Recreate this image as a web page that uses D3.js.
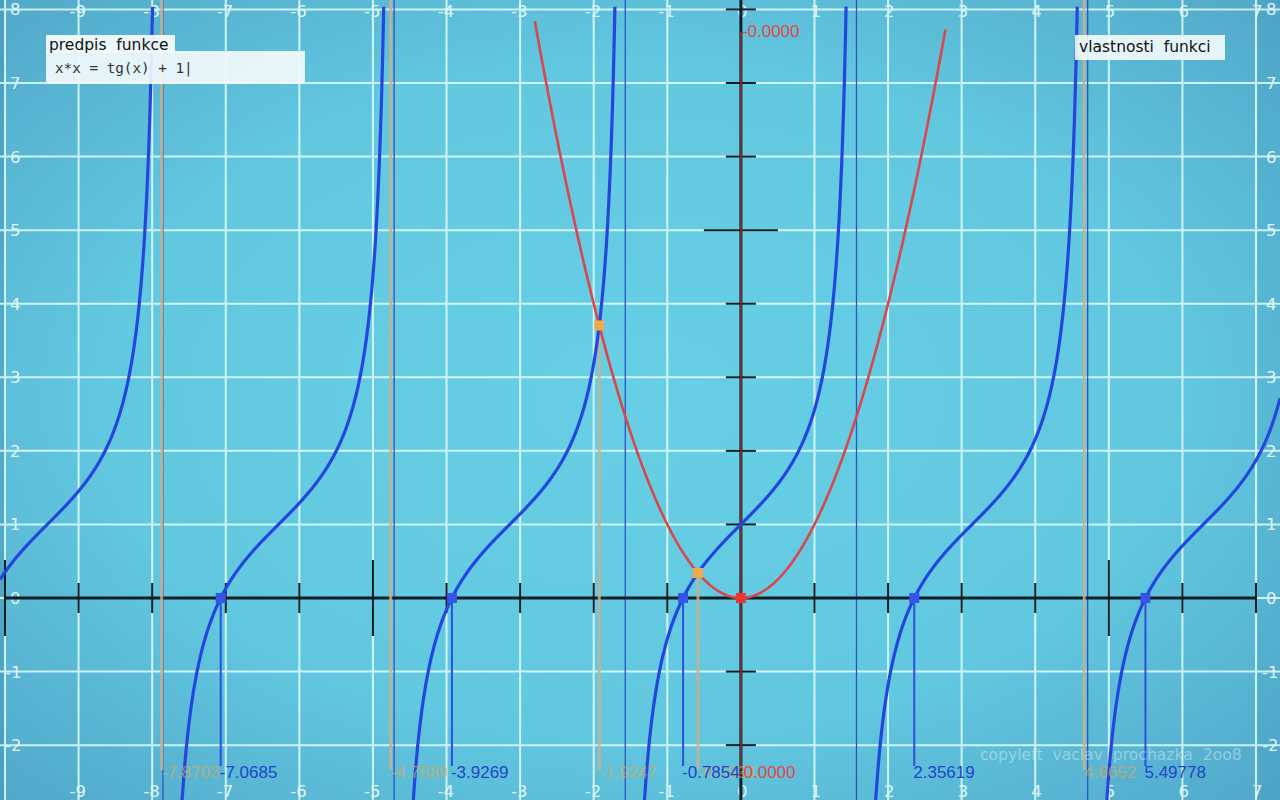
<!DOCTYPE html>
<html>
<head>
<meta charset="utf-8">
<script src="https://cdn.jsdelivr.net/npm/d3@7"></script>
<style>
  html, body { margin: 0; padding: 0; background: #5ab4d2; }
  svg { display: block; }
</style>
</head>
<body>
<svg id="chart" width="1280" height="800"></svg>
<script>
// ---- data ----
const formulaText = "x*x = tg(x) + 1|";
const xTickValues = [-9, -8, -7, -6, -5, -4, -3, -2, -1, 0, 1, 2, 3, 4, 5, 6, 7];
const yTickValues = [-2, -1, 0, 1, 2, 3, 4, 5, 6, 7, 8];
const xMajorTicks = [-10, -5, 5];
const yMajorTicks = [5];
const asymptotes = [-7.8540, -4.7124, -1.5708, 1.5708, 4.7124];
const blueRoots = [-7.0685, -3.9269, -0.7854, 2.35619, 5.49778];
const blueRootLabels = ["-7.0685", "-3.9269", "-0.7854", "2.35619", "5.49778"];
const intersections = [-7.8703, -4.7589, -1.9247, -0.5834, 4.6652];
const intersectionLabels = ["-7.8703", "-4.7589", "-1.9247", "-0.5834", "4.6652"];
const redRoots = [0];
const redRootLabels = ["-0.0000"];
const parabolaRange = [-2.8, 2.78];
// plotted functions, as typed in the formula box
const leftSide = x => x * x;
const rightSide = x => Math.tan(x) + 1;

// ---- setup ----
const W = 1280, H = 800;
const svg = d3.select("#chart");
const x = d3.scaleLinear().domain([-10, 7]).range([5, 1256]);
const y = d3.scaleLinear().domain([0, 7]).range([598, 83]);

const defs = svg.append("defs");
const rg = defs.append("radialGradient").attr("id", "bg")
  .attr("cx", "50%").attr("cy", "50%").attr("r", "75%");
rg.append("stop").attr("offset", "0%").attr("stop-color", "#66cfe5");
rg.append("stop").attr("offset", "55%").attr("stop-color", "#62c8e0");
rg.append("stop").attr("offset", "100%").attr("stop-color", "#4fa3c6");

svg.append("rect").attr("width", W).attr("height", H).attr("fill", "url(#bg)");
svg.append("rect").attr("x", 0).attr("y", 0).attr("width", 5).attr("height", H)
  .attr("fill", "#3f8fb3").attr("opacity", 0.4);
svg.append("rect").attr("x", 1258).attr("y", 0).attr("width", 22).attr("height", H)
  .attr("fill", "#3f8fb3").attr("opacity", 0.15);

// ---- grid ----
const grid = svg.append("g").attr("stroke", "#e2fdff").attr("stroke-width", 2).attr("opacity", 0.85);
grid.selectAll("line.v").data([-10].concat(xTickValues)).join("line")
  .attr("x1", d => x(d)).attr("x2", d => x(d)).attr("y1", 0).attr("y2", H);
grid.selectAll("line.h").data(yTickValues).join("line")
  .attr("y1", d => y(d)).attr("y2", d => y(d)).attr("x1", 0).attr("x2", W);

// ---- axis labels ----
const lab = svg.append("g").attr("font-family", "DejaVu Sans, sans-serif")
  .attr("font-size", 16.5).attr("fill", "#eafcff").attr("opacity", 0.9);
lab.selectAll("text.top").data(xTickValues).join("text")
  .attr("x", d => x(d) - (d < 0 ? 9 : 4)).attr("y", 17).text(d => d);
lab.selectAll("text.bot").data(xTickValues).join("text")
  .attr("x", d => x(d) - (d < 0 ? 9 : 4)).attr("y", 797).text(d => d);
lab.selectAll("text.left").data(yTickValues).join("text")
  .attr("x", d => d < 0 ? 5 : 10).attr("y", d => y(d)).attr("dy", "0.36em").text(d => d);
lab.selectAll("text.right").data(yTickValues).join("text")
  .attr("x", d => d < 0 ? 1262 : 1266).attr("y", d => y(d)).attr("dy", "0.36em").text(d => d);

// ---- asymptotes ----
svg.append("g").selectAll("line").data(asymptotes).join("line")
  .attr("x1", d => x(d)).attr("x2", d => x(d)).attr("y1", 0).attr("y2", H)
  .attr("stroke", "#2a55c8").attr("stroke-width", 1.3);

// ---- axes ----
const axisColor = "#0d1d24";
svg.append("line").attr("x1", x(-10)).attr("x2", x(7)).attr("y1", y(0)).attr("y2", y(0))
  .attr("stroke", axisColor).attr("stroke-width", 3);
svg.append("line").attr("x1", x(0)).attr("x2", x(0)).attr("y1", 0).attr("y2", H)
  .attr("stroke", axisColor).attr("stroke-width", 3);
const ticks = svg.append("g").attr("stroke", axisColor).attr("stroke-width", 2);
ticks.selectAll("line.xt").data(xTickValues.filter(d => d !== 0)).join("line")
  .attr("x1", d => x(d)).attr("x2", d => x(d))
  .attr("y1", d => y(0) - (xMajorTicks.includes(d) ? 38 : 15))
  .attr("y2", d => y(0) + (xMajorTicks.includes(d) ? 38 : 15));
ticks.selectAll("line.xm").data(xMajorTicks.filter(d => !xTickValues.includes(d))).join("line")
  .attr("x1", d => x(d)).attr("x2", d => x(d))
  .attr("y1", y(0) - 38).attr("y2", y(0) + 38);
ticks.selectAll("line.yt").data(yTickValues.filter(d => d !== 0)).join("line")
  .attr("y1", d => y(d)).attr("y2", d => y(d))
  .attr("x1", d => x(0) - (yMajorTicks.includes(d) ? 37 : 15))
  .attr("x2", d => x(0) + (yMajorTicks.includes(d) ? 37 : 15));

// red root line (over y axis)
svg.append("g").selectAll("line").data(redRoots).join("line")
  .attr("x1", d => x(d)).attr("x2", d => x(d)).attr("y1", 32).attr("y2", 770)
  .attr("stroke", "#c24040").attr("stroke-width", 2).attr("opacity", 0.55);

// ---- intersection (orange) lines ----
svg.append("g").selectAll("line").data(intersections).join("line")
  .attr("x1", d => x(d)).attr("x2", d => x(d))
  .attr("y1", d => Math.max(0, y(leftSide(d))))
  .attr("y2", 770)
  .attr("stroke", "#c9b28e").attr("stroke-width", 3).attr("opacity", 0.85);

// ---- blue root lines ----
svg.append("g").selectAll("line").data(blueRoots).join("line")
  .attr("x1", d => x(d)).attr("x2", d => x(d)).attr("y1", y(0)).attr("y2", 766)
  .attr("stroke", "#2d4fe0").attr("stroke-width", 2);

// ---- curves ----
const xmin = x.invert(0), xmax = x.invert(W);
const bluePts = [];
for (let i = 0; ; i++) {
  const xv = xmin + i * 0.0008;
  if (xv > xmax) break;
  bluePts.push([xv, rightSide(xv)]);
}
const line = d3.line().x(d => x(d[0])).y(d => y(d[1]))
  .defined(d => d[1] <= 8.05 && d[1] >= -3.2);
svg.append("path").datum(bluePts).attr("d", line)
  .attr("fill", "none").attr("stroke", "#2546de").attr("stroke-width", 3.2);

const redPts = d3.range(parabolaRange[0], parabolaRange[1] + 1e-9, 0.01).map(v => [v, leftSide(v)]);
svg.append("path").datum(redPts).attr("d", d3.line().x(d => x(d[0])).y(d => y(d[1])))
  .attr("fill", "none").attr("stroke", "#d9474a").attr("stroke-width", 2.6);

// ---- markers ----
const sq = 10;
svg.append("g").selectAll("rect").data(blueRoots).join("rect")
  .attr("x", d => x(d) - sq / 2).attr("y", y(0) - sq / 2).attr("width", sq).attr("height", sq)
  .attr("fill", "#3454ea");
svg.append("g").selectAll("rect").data(intersections.filter(d => leftSide(d) < 8)).join("rect")
  .attr("x", d => x(d) - sq / 2).attr("y", d => y(leftSide(d)) - sq / 2).attr("width", sq).attr("height", sq)
  .attr("fill", "#f2a94e");
svg.append("g").selectAll("rect").data(redRoots).join("rect")
  .attr("x", d => x(d) - sq / 2).attr("y", y(0) - sq / 2).attr("width", sq).attr("height", sq)
  .attr("fill", "#ee3434");

// ---- root labels ----
const rl = svg.append("g").attr("font-family", "Liberation Sans, Arial, sans-serif").attr("font-size", 17);
rl.selectAll("text.o").data(intersections).join("text")
  .attr("x", d => x(d)).attr("y", 778).attr("fill", "#e6a84c").attr("opacity", 0.6)
  .text((d, i) => intersectionLabels[i]);
rl.selectAll("text.b").data(blueRoots).join("text")
  .attr("x", d => x(d) - 1).attr("y", 778).attr("fill", "#2244cc")
  .text((d, i) => blueRootLabels[i]);
rl.selectAll("text.r").data(redRoots).join("text")
  .attr("x", d => x(d) - 3).attr("y", 778).attr("fill", "#e04848")
  .text((d, i) => redRootLabels[i]);
rl.selectAll("text.rt").data(redRoots).join("text")
  .attr("x", d => x(d) + 1).attr("y", 37).attr("fill", "#e04848")
  .text((d, i) => redRootLabels[i]);

// ---- boxes ----
const boxFill = "#f4fbfc";
svg.append("rect").attr("x", 46).attr("y", 51).attr("width", 259).attr("height", 33)
  .attr("fill", boxFill).attr("opacity", 0.9);
svg.append("rect").attr("x", 46).attr("y", 35).attr("width", 129).attr("height", 18)
  .attr("fill", boxFill).attr("opacity", 0.94);
svg.append("text").attr("x", 49).attr("y", 50).attr("font-family", "DejaVu Sans, sans-serif")
  .attr("font-size", 15.5).attr("fill", "#111").style("white-space", "pre").text("predpis  funkce");
svg.append("text").attr("x", 55).attr("y", 73).attr("font-family", "DejaVu Sans Mono, monospace")
  .attr("font-size", 14.3).attr("fill", "#333").style("white-space", "pre").text(formulaText);

svg.append("rect").attr("x", 1075).attr("y", 35).attr("width", 150).attr("height", 25)
  .attr("fill", boxFill).attr("opacity", 0.9);
svg.append("text").attr("x", 1079).attr("y", 52).attr("font-family", "DejaVu Sans, sans-serif")
  .attr("font-size", 15.5).attr("fill", "#111").style("white-space", "pre").text("vlastnosti  funkci");

// ---- watermark ----
svg.append("text").attr("x", 980).attr("y", 760).attr("font-family", "DejaVu Sans, sans-serif")
  .attr("font-size", 15.6).attr("fill", "#ffffff").attr("opacity", 0.35)
  .style("white-space", "pre").text("copyleft  vaclav  prochazka  2oo8");
</script>
</body>
</html>
